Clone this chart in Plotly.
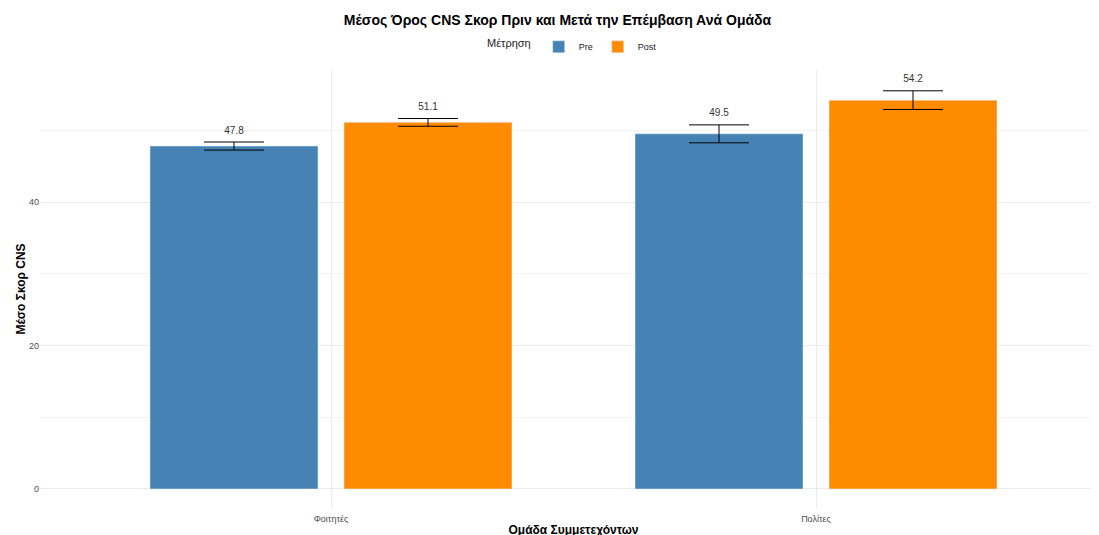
import plotly.graph_objects as go

groups = ["Φοιτητές", "Πολίτες"]
pre_mean = [47.8, 49.5]
post_mean = [51.1, 54.2]
pre_err = [0.56, 1.25]
post_err = [0.54, 1.3]

blue = "#4682B4"
orange = "#FF8C00"
font_main = "Liberation Sans, Arial, sans-serif"

fig = go.Figure()

fig.add_trace(go.Bar(x=groups, y=pre_mean, name="Pre", marker_color=blue,
                     offsetgroup="pre",
                     error_y=dict(type="data", array=pre_err, color="black",
                                  thickness=1, width=30)))
fig.add_trace(go.Bar(x=groups, y=post_mean, name="Post", marker_color=orange,
                     offsetgroup="post",
                     error_y=dict(type="data", array=post_err, color="black",
                                  thickness=1, width=30)))

# value labels just above the error bars
for means, errs, grp in [(pre_mean, pre_err, "pre"), (post_mean, post_err, "post")]:
    fig.add_trace(go.Scatter(
        x=groups, y=[m + e for m, e in zip(means, errs)],
        text=[f"{m:.1f}" for m in means], mode="markers+text",
        marker=dict(size=8, opacity=0),
        textposition="top center", offsetgroup=grp,
        textfont=dict(size=10, color="#333333", family=font_main),
        showlegend=False, hoverinfo="skip"))

fig.update_layout(
    width=1099, height=535,
    barmode="group", bargap=0.2, bargroupgap=0.134,
    scattermode="group", scattergap=0.2,
    plot_bgcolor="white", paper_bgcolor="white",
    font=dict(family=font_main, size=11, color="black"),
    margin=dict(l=32, r=0, t=62, b=35),
    title=dict(text="<b>Μέσος Όρος CNS Σκορ Πριν και Μετά την Επέμβαση Ανά Ομάδα</b>",
               x=0.5, xanchor="center", y=0.977, yanchor="middle",
               font=dict(size=14, color="black")),
    legend=dict(orientation="h", x=0.5, xanchor="center", y=1.053, yanchor="middle",
                title=dict(text="Μέτρηση", side="left",
                           font=dict(size=11, color="#222222")),
                itemwidth=30,
                font=dict(size=9, color="#222222")),
    xaxis=dict(range=[-0.6, 1.6], showgrid=True, gridcolor="#ebebeb", gridwidth=1,
               showline=False, zeroline=False, ticks="", automargin=False,
               ticklabelstandoff=4,
               tickfont=dict(size=9, color="#4d4d4d"),
               title=dict(text="<b>Ομάδα Συμμετεχόντων</b>", standoff=2,
                          font=dict(size=12, color="black"))),
    yaxis=dict(range=[-2.65, 58.4], dtick=20, showgrid=True, gridcolor="#ebebeb",
               gridwidth=1, zeroline=False, showline=False, ticks="", automargin=False,
               tickfont=dict(size=9, color="#4d4d4d"),
               minor=dict(dtick=10, showgrid=True, gridcolor="#f3f3f3", gridwidth=0.6),
               title=dict(text="<b>Μέσο Σκορ CNS</b>", standoff=0,
                          font=dict(size=12, color="black"))),
)

fig.write_html("out.html")
